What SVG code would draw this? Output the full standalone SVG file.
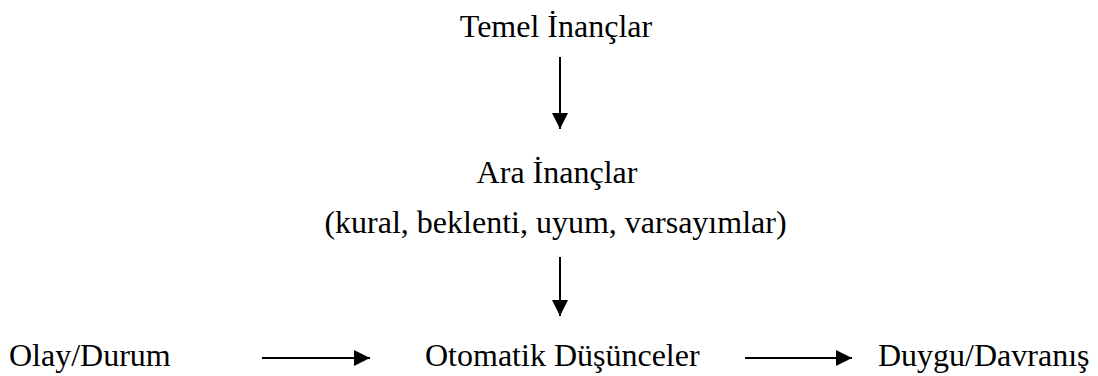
<svg xmlns="http://www.w3.org/2000/svg" width="1098" height="376" viewBox="0 0 1098 376">
  <style>
    .lbl { font-family: "Liberation Serif", "Times New Roman", serif; font-size: 32px; fill: #000; }
    .mid { text-anchor: middle; }
    .conn { stroke: #000; stroke-width: 2; fill: none; }
  </style>
  <defs>
    <marker id="head" markerUnits="userSpaceOnUse" markerWidth="16" markerHeight="16" viewBox="0 0 16 16" refX="16" refY="8" orient="auto">
      <path d="M0,0 L16,8 L0,16 Z" fill="#000"/>
    </marker>
  </defs>
  <rect width="1098" height="376" fill="#fff"/>

  <g id="temel-inanclar">
    <text class="lbl mid" x="556" y="37">Temel İnançlar</text>
  </g>
  <g id="ara-inanclar">
    <text class="lbl mid" x="557" y="183">Ara İnançlar</text>
    <text class="lbl mid" x="555.5" y="233">(kural, beklenti, uyum, varsayımlar)</text>
  </g>
  <g id="olay-durum">
    <text class="lbl" x="9" y="366">Olay/Durum</text>
  </g>
  <g id="otomatik-dusunceler">
    <text class="lbl" x="425" y="366">Otomatik Düşünceler</text>
  </g>
  <g id="duygu-davranis">
    <text class="lbl" x="878" y="366">Duygu/Davranış</text>
  </g>

  <g id="connectors">
    <line class="conn" x1="560" y1="57" x2="560" y2="129" marker-end="url(#head)"/>
    <line class="conn" x1="560" y1="257" x2="560" y2="316" marker-end="url(#head)"/>
    <line class="conn" x1="262" y1="358" x2="370" y2="358" marker-end="url(#head)"/>
    <line class="conn" x1="745" y1="358" x2="852" y2="358" marker-end="url(#head)"/>
  </g>
</svg>
